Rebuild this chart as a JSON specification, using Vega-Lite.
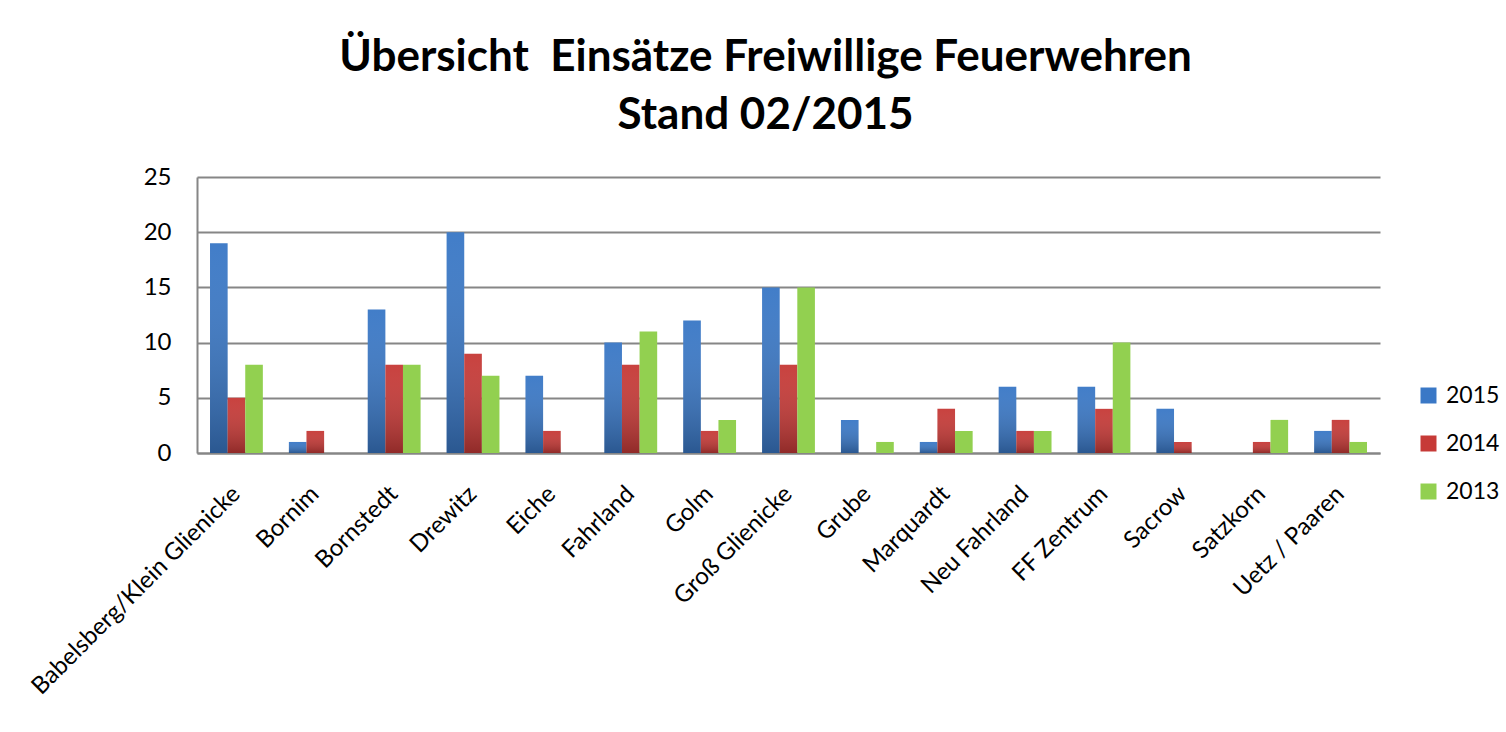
{
  "$schema": "https://vega.github.io/schema/vega-lite/v6.json",
  "autosize": {"type": "none"},
  "padding": {"left": 197, "top": 177, "right": 126, "bottom": 279},
  "width": 1183,
  "height": 276,
  "background": "white",
  "title": {
    "text": ["Übersicht\u00a0 Einsätze Freiwillige Feuerwehren", "Stand 02/2015"],
    "font": "Lato",
    "fontSize": 44,
    "fontWeight": "bold",
    "color": "#000000",
    "lineHeight": 58,
    "anchor": "middle",
    "frame": "group",
    "dx": -23,
    "offset": 27
  },
  "data": {
    "values": [
      {"ort": "Babelsberg/Klein Glienicke", "jahr": "2015", "n": 19},
      {"ort": "Babelsberg/Klein Glienicke", "jahr": "2014", "n": 5},
      {"ort": "Babelsberg/Klein Glienicke", "jahr": "2013", "n": 8},
      {"ort": "Bornim", "jahr": "2015", "n": 1},
      {"ort": "Bornim", "jahr": "2014", "n": 2},
      {"ort": "Bornim", "jahr": "2013", "n": 0},
      {"ort": "Bornstedt", "jahr": "2015", "n": 13},
      {"ort": "Bornstedt", "jahr": "2014", "n": 8},
      {"ort": "Bornstedt", "jahr": "2013", "n": 8},
      {"ort": "Drewitz", "jahr": "2015", "n": 20},
      {"ort": "Drewitz", "jahr": "2014", "n": 9},
      {"ort": "Drewitz", "jahr": "2013", "n": 7},
      {"ort": "Eiche", "jahr": "2015", "n": 7},
      {"ort": "Eiche", "jahr": "2014", "n": 2},
      {"ort": "Eiche", "jahr": "2013", "n": 0},
      {"ort": "Fahrland", "jahr": "2015", "n": 10},
      {"ort": "Fahrland", "jahr": "2014", "n": 8},
      {"ort": "Fahrland", "jahr": "2013", "n": 11},
      {"ort": "Golm", "jahr": "2015", "n": 12},
      {"ort": "Golm", "jahr": "2014", "n": 2},
      {"ort": "Golm", "jahr": "2013", "n": 3},
      {"ort": "Groß Glienicke", "jahr": "2015", "n": 15},
      {"ort": "Groß Glienicke", "jahr": "2014", "n": 8},
      {"ort": "Groß Glienicke", "jahr": "2013", "n": 15},
      {"ort": "Grube", "jahr": "2015", "n": 3},
      {"ort": "Grube", "jahr": "2014", "n": 0},
      {"ort": "Grube", "jahr": "2013", "n": 1},
      {"ort": "Marquardt", "jahr": "2015", "n": 1},
      {"ort": "Marquardt", "jahr": "2014", "n": 4},
      {"ort": "Marquardt", "jahr": "2013", "n": 2},
      {"ort": "Neu Fahrland", "jahr": "2015", "n": 6},
      {"ort": "Neu Fahrland", "jahr": "2014", "n": 2},
      {"ort": "Neu Fahrland", "jahr": "2013", "n": 2},
      {"ort": "FF Zentrum", "jahr": "2015", "n": 6},
      {"ort": "FF Zentrum", "jahr": "2014", "n": 4},
      {"ort": "FF Zentrum", "jahr": "2013", "n": 10},
      {"ort": "Sacrow", "jahr": "2015", "n": 4},
      {"ort": "Sacrow", "jahr": "2014", "n": 1},
      {"ort": "Sacrow", "jahr": "2013", "n": 0},
      {"ort": "Satzkorn", "jahr": "2015", "n": 0},
      {"ort": "Satzkorn", "jahr": "2014", "n": 1},
      {"ort": "Satzkorn", "jahr": "2013", "n": 3},
      {"ort": "Uetz / Paaren", "jahr": "2015", "n": 2},
      {"ort": "Uetz / Paaren", "jahr": "2014", "n": 3},
      {"ort": "Uetz / Paaren", "jahr": "2013", "n": 1}
    ]
  },
  "encoding": {
    "x": {
      "field": "ort", "type": "nominal", "sort": null, "title": null,
      "scale": {"paddingInner": 0.33, "paddingOuter": 0.165},
      "axis": {
        "labelAngle": -45, "labelAlign": "right", "labelBaseline": "middle",
        "labelFont": "Lato", "labelFontSize": 24, "labelColor": "#000000",
        "labelPadding": 37, "ticks": false, "domainColor": "#868686", "domainWidth": 2,
        "labelLimit": 400
      }
    },
    "xOffset": {"field": "jahr", "type": "nominal", "sort": ["2015", "2014", "2013"]},
    "y": {
      "field": "n", "type": "quantitative", "title": null,
      "scale": {"domain": [0, 25], "nice": false},
      "axis": {
        "values": [0, 5, 10, 15, 20, 25], "ticks": false,
        "labelFont": "Lato", "labelFontSize": 24, "labelColor": "#000000",
        "labelPadding": 26, "domainColor": "#868686", "domainWidth": 2,
        "gridColor": "#868686", "gridWidth": 2
      }
    }
  },
  "layer": [
    {
      "mark": {"type": "bar"},
      "encoding": {
        "color": {
          "field": "jahr", "type": "nominal",
          "scale": {"domain": ["2015", "2014", "2013"], "range": ["#3a78c6", "#c63a37", "#92d050"]},
          "legend": {
            "title": null, "orient": "none", "legendX": 1220, "legendY": 207,
            "symbolType": "square", "symbolSize": 256, "symbolStrokeWidth": 0,
            "labelFont": "Lato", "labelFontSize": 23, "labelColor": "#000000",
            "rowPadding": 24, "labelOffset": 6, "padding": 0
          }
        }
      }
    },
    {
      "transform": [{"filter": "datum.jahr != '2013'"}],
      "mark": {
        "type": "bar",
        "fill": {
          "gradient": "linear", "x1": 0, "y1": 0, "x2": 0, "y2": 1,
          "stops": [
            {"offset": 0, "color": "rgba(255,255,255,0.04)"},
            {"offset": 1, "color": "rgba(0,0,0,0.27)"}
          ]
        }
      }
    }
  ],
  "config": {
    "view": {"stroke": null}
  }
}
